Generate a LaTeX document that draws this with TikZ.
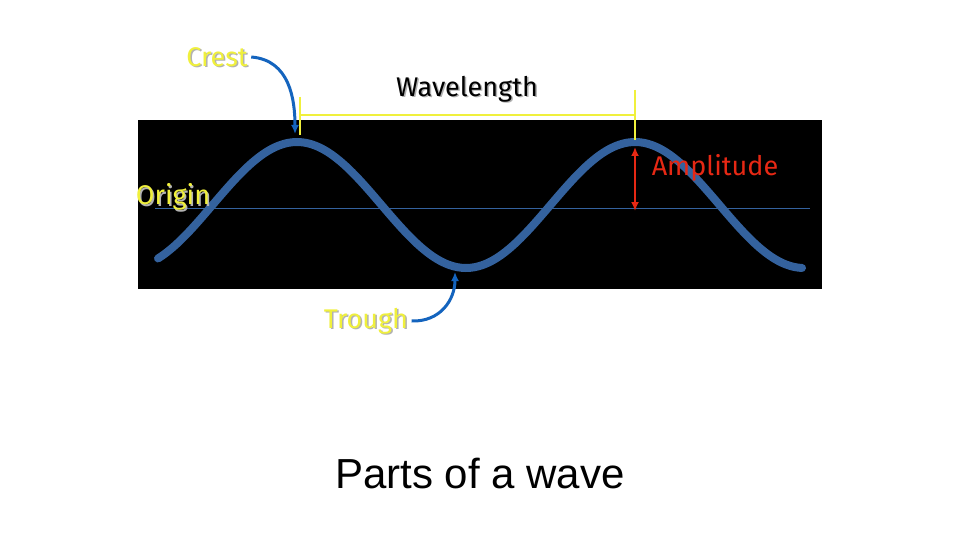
\documentclass[tikz,border=0pt]{standalone}
\usepackage{fontspec}
\setmainfont{Liberation Sans}
\newfontfamily\comic{Fira Sans}
\usetikzlibrary{arrows.meta,calc}
\definecolor{wave}{RGB}{52,98,158}
\definecolor{lbl}{RGB}{240,240,60}
\definecolor{amp}{RGB}{230,40,20}
\tikzset{
  yel/.style={lbl,line width=2pt},
  blu/.style={draw={rgb,255:red,20;green,100;blue,190},line width=3pt,-{Latex[length=9pt,width=8pt]}},
  shad/.style={text=gray!60,font=\comic\fontsize{27}{29}\selectfont},
}
\newcommand{\lab}[4]{%
  \node[shad] (#1s) at ($(#2)+(1.5,1.5)$) {#4};
  \node[text=#3,font=\comic\fontsize{27}{29}\selectfont] (#1) at (#2) {#4};}
\begin{document}
\begin{tikzpicture}[x=1pt,y=-1pt]
\useasboundingbox (0,0) rectangle (960,540);
\fill[white] (0,0) rectangle (960,540);
\fill[black] (138,120) rectangle (822,289);
\draw[wave,line width=1pt] (155,208) coordinate (o1) -- (810,208) coordinate (o2);
\draw[wave,line width=8pt,line cap=round] plot[domain=158:802,samples=160,smooth] (\x,{205-63*cos(deg(2*pi*(\x-297)/338))});
\coordinate (w1) at (300,115); \coordinate (w2) at (635,115);
\draw[yel] (w1) -- (w2);
\draw[yel] (300,97) -- (300,135);
\draw[yel] (635,90) -- (635,140);
\coordinate (a1) at (635,147); \coordinate (a2) at (635,211);
\draw[amp,line width=2pt,{Latex[length=9pt,width=8pt]}-{Latex[length=9pt,width=8pt]}] (a1) -- (a2);
\lab{wl}{467,89}{black}{Wavelength}
\lab{cr}{217,57}{lbl}{Crest}
\lab{or}{173,197}{lbl}{Origin}
\lab{tr}{366,321}{lbl}{Trough}
\node[text=amp,font=\comic\fontsize{27}{29}\selectfont] (am) at (715,168) {Amplitude};
\coordinate (cp) at (295,134);
\coordinate (tp) at (455,272);
\draw[blu] (cr.east) .. controls (290,60) and (295,100) .. (cp);
\draw[blu] (tr.east) .. controls (440,322) and (455,300) .. (tp);
\node[font=\fontsize{42}{46}\selectfont] (title) at (480,474) {Parts of a wave};
\end{tikzpicture}
\end{document}
